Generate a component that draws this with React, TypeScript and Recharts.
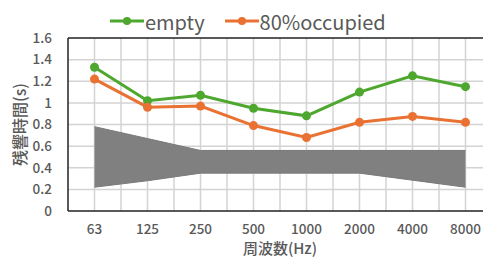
import React from 'react';
import { ComposedChart, Line, Area, XAxis, YAxis, Legend, ReferenceLine } from 'recharts';

const categories = ['63', '125', '250', '500', '1000', '2000', '4000', '8000'];
const emptyRT = [1.33, 1.02, 1.07, 0.95, 0.88, 1.10, 1.25, 1.15];
const occupiedRT = [1.22, 0.96, 0.97, 0.79, 0.68, 0.82, 0.875, 0.82];
const bandLow = [0.22, 0.28, 0.35, 0.35, 0.35, 0.35, 0.285, 0.22];
const bandHigh = [0.78, 0.67, 0.56, 0.56, 0.56, 0.56, 0.56, 0.56];
const yTicks = [0, 0.2, 0.4, 0.6, 0.8, 1, 1.2, 1.4, 1.6];
const gridXs = [0, 0.5, 1, 1.5, 2, 2.5, 3, 3.5, 4, 4.5, 5, 5.5, 6, 6.5, 7, 7.5];
const xTicks = categories.map((_, i) => i);
const xDomain: [number, number] = [-0.5, 7.5];

const GREEN = '#4EA72E';
const ORANGE = '#E97132';
const FONT = '"Noto Sans CJK JP", "Noto Sans", sans-serif';
const TEXT = '#595959';
const GRID = '#d3d3d3';

const data = categories.map((c, i) => ({
  x: i,
  label: c,
  empty: emptyRT[i],
  occupied: occupiedRT[i],
  band: [bandLow[i], bandHigh[i]],
}));

const LegendContent = () => (
  <div style={{ height: 34, display: 'flex', justifyContent: 'flex-start', alignItems: 'center', paddingLeft: 110, fontFamily: FONT, fontSize: 20, color: TEXT }}>
    {[{ n: 'empty', c: GREEN }, { n: '80%occupied', c: ORANGE }].map((it, k) => (
      <div key={k} style={{ display: 'flex', alignItems: 'center', marginRight: 20 }}>
        <svg width={34} height={10} style={{ marginRight: 1 }}>
          <line x1={0} y1={5} x2={34} y2={5} stroke={it.c} strokeWidth={3} />
          <circle cx={17} cy={5} r={4} fill={it.c} />
        </svg>
        <span>{it.n}</span>
      </div>
    ))}
  </div>
);

export default function App() {
  return (
    <div style={{ position: 'absolute', left: 0, top: 0, width: 483, height: 263, overflow: 'hidden', background: '#fff' }}>
      <ComposedChart width={500} height={263} data={data} margin={{ top: 4, right: 8, bottom: 0, left: 0 }}>
        <Legend verticalAlign="top" align="left" content={<LegendContent />} />
        {yTicks.slice(1, -1).map((gy) => (
          <ReferenceLine key={'h' + gy} y={gy} stroke={GRID} strokeWidth={1.5} ifOverflow="extendDomain" />
        ))}
        {gridXs.map((gx) => (
          <ReferenceLine key={'v' + gx} x={gx} stroke={GRID} strokeWidth={1.5} ifOverflow="extendDomain" />
        ))}
        <ReferenceLine y={1.6} stroke="#222" strokeWidth={1.5} ifOverflow="extendDomain" />
        <XAxis
          dataKey="x"
          type="number"
          domain={xDomain}
          ticks={xTicks}
          interval={0}
          tickFormatter={(i: number) => categories[i]}
          height={52}
          tickLine={false}
          tickMargin={7}
          axisLine={{ stroke: '#222', strokeWidth: 1.5 }}
          tick={{ fill: TEXT, fontSize: 13.5, fontFamily: FONT, fontWeight: 500 }}
          label={{ value: '周波数(Hz)', position: 'insideBottom', offset: 9, fill: TEXT, fontSize: 15, fontFamily: FONT, fontWeight: 500 }}
        />
        <YAxis
          domain={[0, 1.6]}
          ticks={yTicks}
          width={68}
          tickLine={false}
          tickMargin={10}
          axisLine={{ stroke: '#222', strokeWidth: 1.5 }}
          tick={{ fill: TEXT, fontSize: 13.5, fontFamily: FONT, fontWeight: 500 }}
          label={{ value: '残響時間(s)', angle: -90, position: 'insideLeft', offset: 20, fill: TEXT, fontSize: 16, fontFamily: FONT, fontWeight: 500, style: { textAnchor: 'middle' } }}
        />
        <Area dataKey="band" type="linear" fill="#808080" fillOpacity={1} stroke="#7a7a7a" strokeWidth={1} zIndex={5000} isAnimationActive={false} />
        <Line dataKey="empty" type="linear" stroke={GREEN} strokeWidth={3} dot={{ r: 4.5, fill: GREEN, stroke: 'none' }} isAnimationActive={false} />
        <Line dataKey="occupied" type="linear" stroke={ORANGE} strokeWidth={3} dot={{ r: 4.5, fill: ORANGE, stroke: 'none' }} isAnimationActive={false} />
      </ComposedChart>
    </div>
  );
}
